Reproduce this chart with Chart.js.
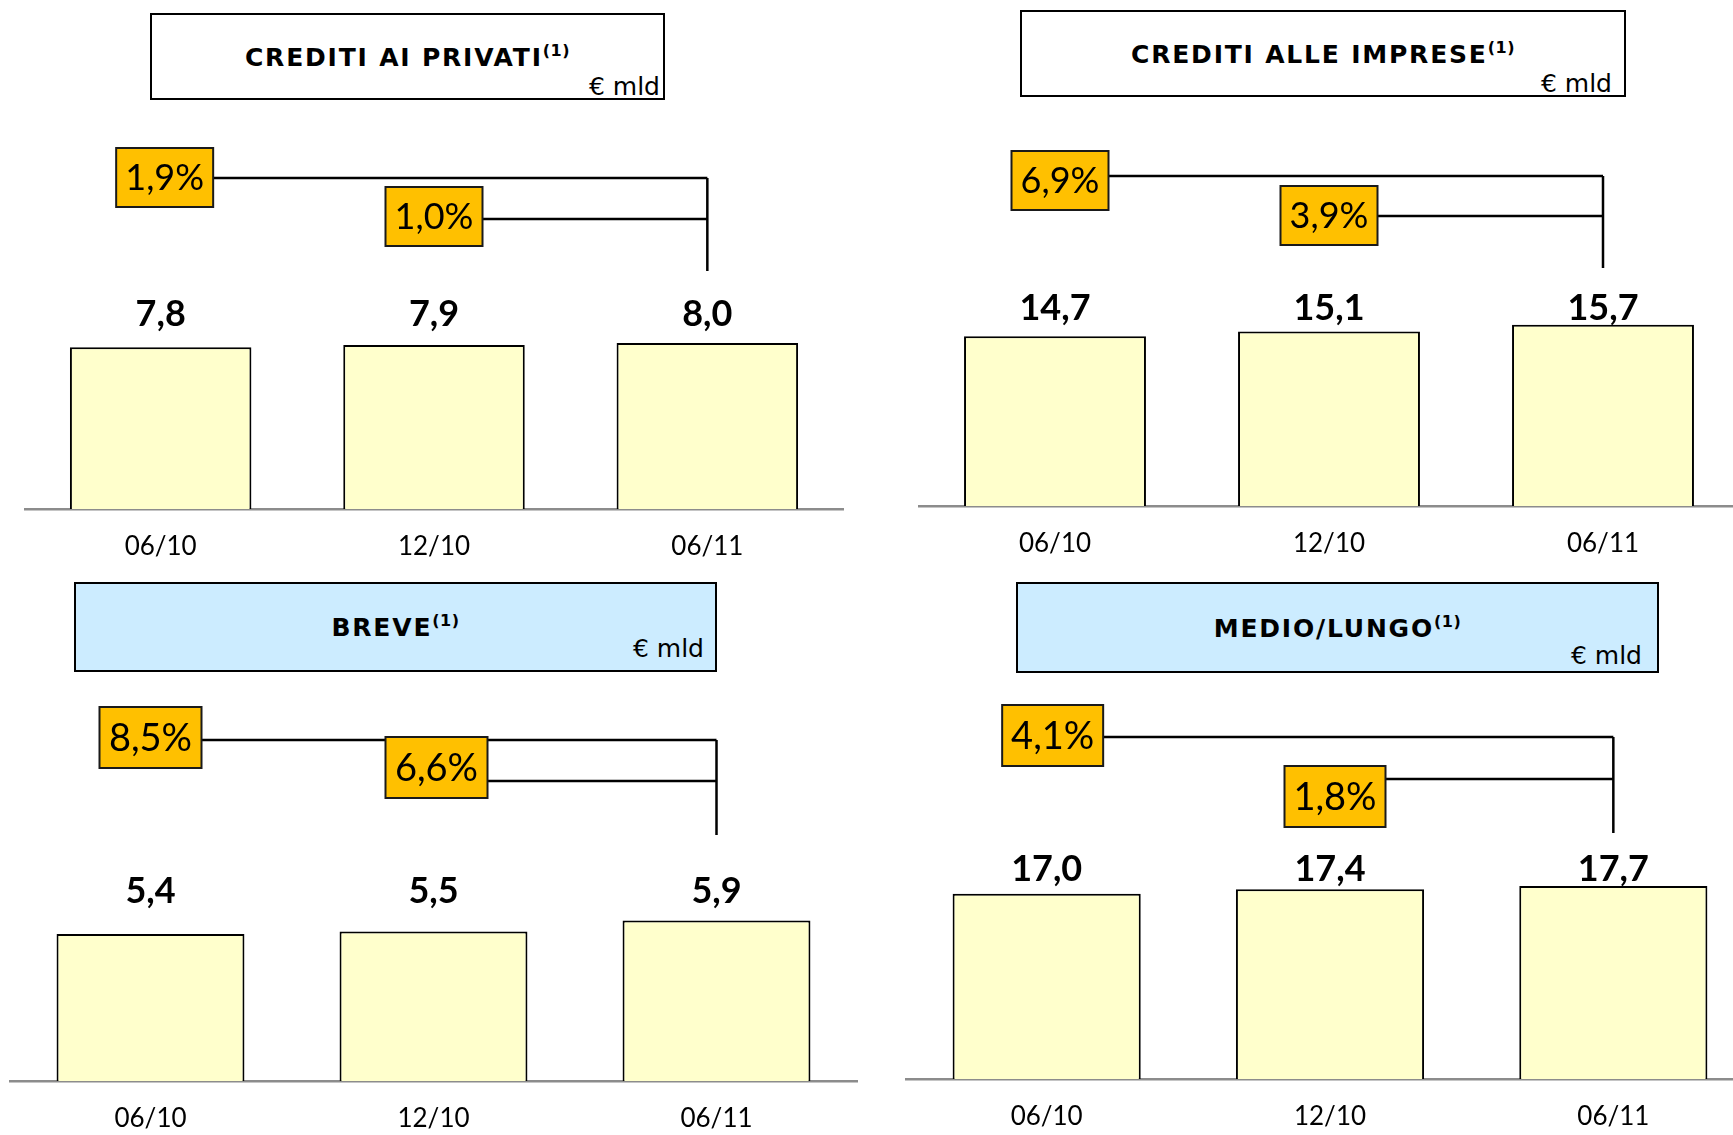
<!DOCTYPE html>
<html lang="it">

<head>
  <meta charset="UTF-8" />
  <title>Crediti | € mld</title>
  <script src="https://cdn.jsdelivr.net/npm/chart.js@4.4.1/dist/chart.umd.min.js"></script>
  <style>
    html,
    body {
      margin: 0;
      padding: 0;
      background: #fff;
      overflow: hidden;
    }

    body {
      width: 1733px;
      height: 1135px;
      position: relative;
    }

    .title-box {
      position: absolute;
      box-sizing: border-box;
      border: 2px solid #000;
      background: #fff;
      font-family: "DejaVu Sans", Verdana, sans-serif;
      color: #000;
    }

    .title-box.blue {
      background: #CCECFF;
    }

    .title-box .name {
      position: absolute;
      left: 0;
      right: 0;
      top: 50%;
      transform: translateY(-50%);
      text-align: center;
      font-weight: bold;
      font-size: 25px;
      letter-spacing: 1.8px;
      line-height: 1;
    }

    .title-box sup {
      font-size: 16px;
      letter-spacing: 0.5px;
      line-height: 0;
      vertical-align: 10px;
    }

    .title-box .unit {
      position: absolute;
      font-size: 25px;
      line-height: 1;
    }

    .chart-wrap {
      position: absolute;
    }
  </style>
</head>

<body>
  <!-- title boxes -->
  <div class="title-box" style="left:150px;top:13px;width:515px;height:87px;">
    <div class="name">CREDITI AI PRIVATI<sup>(1)</sup></div>
    <div class="unit" style="right:3px;bottom:-1px;">€ mld</div>
  </div>
  <div class="title-box" style="left:1020px;top:10px;width:606px;height:87px;">
    <div class="name">CREDITI ALLE IMPRESE<sup>(1)</sup></div>
    <div class="unit" style="right:12px;bottom:-1px;">€ mld</div>
  </div>
  <div class="title-box blue" style="left:74px;top:582px;width:643px;height:90px;">
    <div class="name">BREVE<sup>(1)</sup></div>
    <div class="unit" style="right:11px;bottom:9px;">€ mld</div>
  </div>
  <div class="title-box blue" style="left:1016px;top:582px;width:643px;height:91px;">
    <div class="name">MEDIO/LUNGO<sup>(1)</sup></div>
    <div class="unit" style="right:15px;bottom:3px;">€ mld</div>
  </div>

  <!-- charts -->
  <div class="chart-wrap" id="wrap-privati"><canvas id="privati"></canvas></div>
  <div class="chart-wrap" id="wrap-imprese"><canvas id="imprese"></canvas></div>
  <div class="chart-wrap" id="wrap-breve"><canvas id="breve"></canvas></div>
  <div class="chart-wrap" id="wrap-medio"><canvas id="medio"></canvas></div>

  <script>
    // data (€ mld)
    const categories = ['06/10', '12/10', '06/11'];

    const privatiValues = [7.8, 7.9, 8.0];
    const privatiGrowth = [1.9, 1.0];   // vs 06/10, vs 12/10

    const impreseValues = [14.7, 15.1, 15.7];
    const impreseGrowth = [6.9, 3.9];

    const breveValues = [5.4, 5.5, 5.9];
    const breveGrowth = [8.5, 6.6];

    const medioValues = [17.0, 17.4, 17.7];
    const medioGrowth = [4.1, 1.8];

    // layout of each panel, page pixels
    const AXIS_H = 60;
    const panels = [
      {
        id: 'privati', values: privatiValues, growth: privatiGrowth,
        left: 24, width: 820, top: 105, baseline: 509, pxPerUnit: 20.75,
        labelBase: 326, boxW: 97, boxH: 59, growthFont: 36,
        boxes: [{ top: 148, dx: 4 }, { top: 187, dx: 0 }], lines: [178, 219], vertBottom: 271
      },
      {
        id: 'imprese', values: impreseValues, growth: impreseGrowth,
        left: 918, width: 822, top: 105, baseline: 506, pxPerUnit: 11.55,
        labelBase: 320, boxW: 97, boxH: 59, growthFont: 36,
        boxes: [{ top: 151, dx: 5 }, { top: 186, dx: 0 }], lines: [176, 216], vertBottom: 268
      },
      {
        id: 'breve', values: breveValues, growth: breveGrowth,
        left: 9, width: 849, top: 680, baseline: 1081, pxPerUnit: 27.2,
        labelBase: 903, boxW: 102, boxH: 61, growthFont: 38,
        boxes: [{ top: 707, dx: 0 }, { top: 737, dx: 3 }], lines: [740, 781], vertBottom: 835
      },
      {
        id: 'medio', values: medioValues, growth: medioGrowth,
        left: 905, width: 850, top: 680, baseline: 1079, pxPerUnit: 10.9,
        labelBase: 881, boxW: 101, boxH: 61, growthFont: 38,
        boxes: [{ top: 705, dx: 6 }, { top: 766, dx: 5 }], lines: [737, 779], vertBottom: 833
      }
    ];

    const fmt = v => v.toFixed(1).replace('.', ',');

    // value labels + growth brackets
    function makeAnnotations(p) {
      return {
        id: 'annotations-' + p.id,
        afterDatasetsDraw(chart) {
          const ctx = chart.ctx;
          const x = chart.scales.x;
          const top = p.top;
          ctx.save();

          // value labels
          ctx.fillStyle = '#000';
          ctx.font = 'bold 36px Lato, "Open Sans", sans-serif';
          ctx.textAlign = 'center';
          ctx.textBaseline = 'alphabetic';
          p.values.forEach((v, i) => {
            ctx.fillText(fmt(v), x.getPixelForValue(i), p.labelBase - top);
          });

          // bracket lines
          const xEnd = x.getPixelForValue(2);
          ctx.strokeStyle = '#000';
          ctx.lineWidth = 2.5;
          ctx.beginPath();
          p.lines.forEach((ly, i) => {
            const cx = x.getPixelForValue(i) + p.boxes[i].dx;
            ctx.moveTo(cx + p.boxW / 2, ly - top);
            ctx.lineTo(xEnd, ly - top);
          });
          ctx.moveTo(xEnd, p.lines[0] - top);
          ctx.lineTo(xEnd, p.vertBottom - top);
          ctx.stroke();

          // growth boxes
          ctx.font = p.growthFont + 'px Lato, "Open Sans", sans-serif';
          p.growth.forEach((g, i) => {
            const cx = x.getPixelForValue(i) + p.boxes[i].dx;
            const bx = cx - p.boxW / 2;
            const by = p.boxes[i].top - top;
            ctx.fillStyle = '#FFC000';
            ctx.fillRect(bx, by, p.boxW, p.boxH);
            ctx.lineWidth = 2;
            ctx.strokeStyle = '#1a1a1a';
            ctx.strokeRect(bx, by, p.boxW, p.boxH);
            ctx.fillStyle = '#000';
            ctx.fillText(fmt(g) + '%', cx, by + p.boxH / 2 + p.growthFont * 0.36);
          });

          ctx.restore();
        }
      };
    }

    panels.forEach(p => {
      const h = p.baseline - p.top + AXIS_H;
      const wrap = document.getElementById('wrap-' + p.id);
      wrap.style.left = p.left + 'px';
      wrap.style.top = p.top + 'px';
      wrap.style.width = p.width + 'px';
      wrap.style.height = h + 'px';
      const canvas = document.getElementById(p.id);
      canvas.width = p.width;
      canvas.height = h;

      new Chart(canvas.getContext('2d'), {
        type: 'bar',
        data: {
          labels: categories,
          datasets: [{
            data: p.values,
            backgroundColor: '#FFFFCC',
            borderColor: '#000',
            borderWidth: 2,
            categoryPercentage: 1,
            barPercentage: 0.664
          }]
        },
        options: {
          responsive: false,
          animation: false,
          layout: { padding: 0 },
          plugins: { legend: { display: false }, tooltip: { enabled: false } },
          scales: {
            x: {
              grid: { display: false, drawTicks: false },
              border: { display: true, color: '#8c8c8c', width: 2.5 },
              ticks: {
                color: '#000',
                padding: 22,
                font: { family: 'Lato, "Open Sans", sans-serif', size: 26 }
              },
              afterFit(scale) { scale.height = AXIS_H; }
            },
            y: {
              display: false,
              min: 0,
              max: (p.baseline - p.top) / p.pxPerUnit
            }
          }
        },
        plugins: [makeAnnotations(p)]
      });
    });
  </script>
</body>

</html>
